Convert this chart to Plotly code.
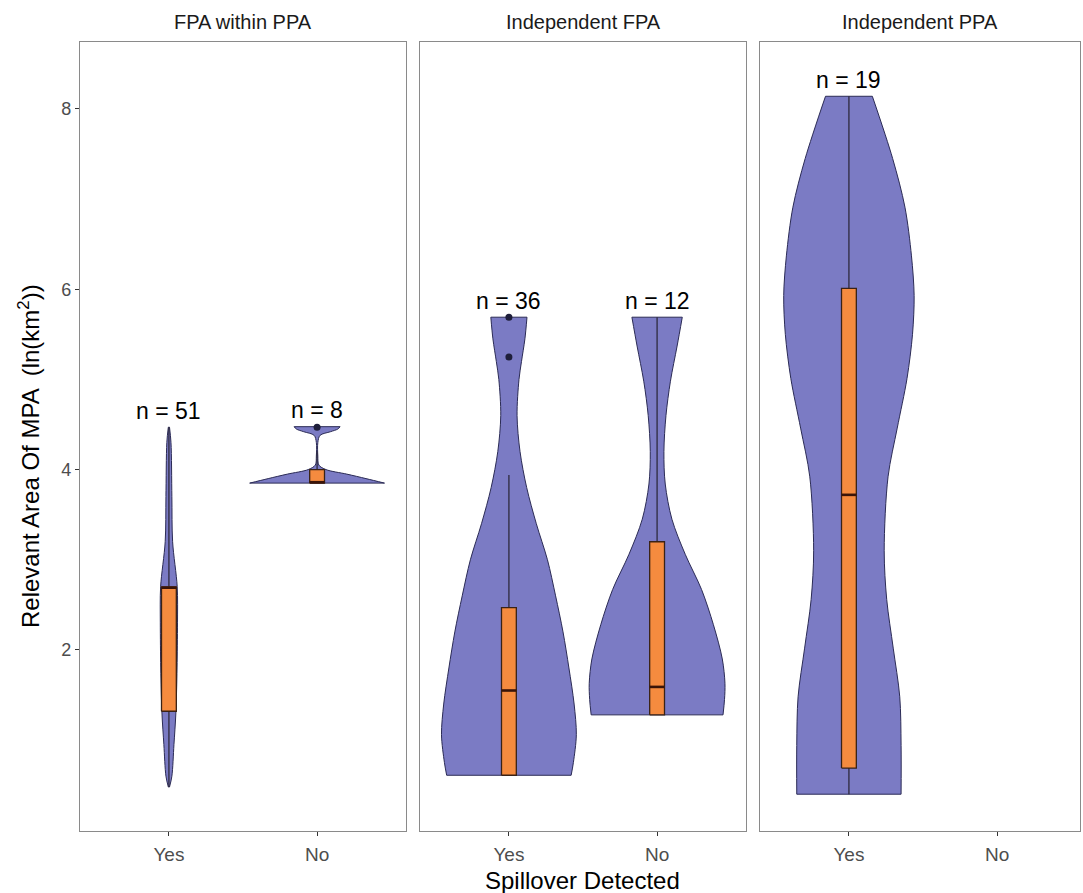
import plotly.graph_objects as go

# ---------------- data ----------------
facets = ["FPA within PPA", "Independent FPA", "Independent PPA"]
categories = ["Yes", "No"]

# violin outlines: y levels (ln km2) and half-widths (x units)
p1_yes_y = [0.48, 0.60, 0.95, 1.30, 1.80, 2.30, 2.70, 3.20, 3.70, 4.30, 4.47]
p1_yes_hw = [0.004, 0.020, 0.034, 0.047, 0.055, 0.058, 0.056, 0.025, 0.020, 0.014, 0.004]

p1_no_y = [3.85, 3.90, 3.95, 4.00, 4.05, 4.15, 4.30, 4.38, 4.42, 4.45, 4.476]
p1_no_hw = [0.455, 0.33, 0.20, 0.06, 0.012, 0.005, 0.005, 0.02, 0.09, 0.14, 0.155]

p2_yes_y = [0.61, 0.75, 1.06, 1.40, 1.80, 2.20, 2.60, 3.00, 3.40, 3.80, 4.20, 4.60, 5.00, 5.20, 5.45, 5.69]
p2_yes_hw = [0.42, 0.435, 0.455, 0.44, 0.405, 0.365, 0.315, 0.26, 0.185, 0.12, 0.075, 0.055, 0.068, 0.085, 0.108, 0.122]

p2_no_y = [1.28, 1.45, 1.63, 1.90, 2.28, 2.67, 3.06, 3.45, 3.84, 4.20, 4.60, 4.98, 5.37, 5.69]
p2_no_hw = [0.445, 0.455, 0.458, 0.44, 0.38, 0.30, 0.19, 0.10, 0.055, 0.046, 0.06, 0.09, 0.135, 0.17]

p3_yes_y = [0.40, 0.94, 1.48, 2.02, 2.56, 3.10, 3.92, 4.46, 5.01, 5.50, 5.93, 6.37, 6.91, 7.45, 8.14]
p3_yes_hw = [0.352, 0.352, 0.343, 0.299, 0.255, 0.238, 0.264, 0.326, 0.392, 0.429, 0.44, 0.422, 0.378, 0.295, 0.158]

# box statistics
box_facet = [0, 0, 1, 1, 2]
box_cat = ["Yes", "No", "Yes", "No", "Yes"]
box_lf = [0.48, 3.85, 0.61, 1.28, 0.40]
box_q1 = [1.32, 3.85, 0.61, 1.28, 0.69]
box_med = [2.69, 3.86, 1.55, 1.59, 3.72]
box_q3 = [2.70, 4.00, 2.47, 3.20, 6.01]
box_uf = [4.47, 4.20, 3.94, 5.69, 8.14]

# outliers
out_facet = [0, 1, 1]
out_cat = ["No", "Yes", "Yes"]
out_val = [4.47, 5.25, 5.69]

# sample sizes
n_facet = [0, 0, 1, 1, 2]
n_cat = ["Yes", "No", "Yes", "No", "Yes"]
n_val = [51, 8, 36, 12, 19]
n_top = [4.47, 4.476, 5.69, 5.69, 8.14]

violins = [
    (0, "Yes", p1_yes_y, p1_yes_hw),
    (0, "No", p1_no_y, p1_no_hw),
    (1, "Yes", p2_yes_y, p2_yes_hw),
    (1, "No", p2_no_y, p2_no_hw),
    (2, "Yes", p3_yes_y, p3_yes_hw),
]

# ---------------- style ----------------
VIOLIN_FILL = "#7B7BC4"
VIOLIN_LINE = "#2B2B55"
BOX_FILL = "#F58B3F"
BOX_LINE = "#3A2215"
WHISKER = "#2E2A3E"
FONT = "Liberation Sans, Arial, sans-serif"
BOX_HALF = 0.05

pos = {c: i + 1 for i, c in enumerate(categories)}
axn = ["", "2", "3"]

fig = go.Figure()


def ax(f):
    return dict(xaxis="x" + axn[f], yaxis="y" + axn[f])


for f, cat, ys, hws in violins:
    c = pos[cat]
    # left outline
    fig.add_trace(go.Scatter(
        x=[c - h for h in hws], y=ys, mode="lines",
        line=dict(color=VIOLIN_LINE, width=1, shape="spline", smoothing=0.9),
        hoverinfo="skip", showlegend=False, **ax(f)))
    # right outline, filled to the left outline
    fig.add_trace(go.Scatter(
        x=[c + h for h in hws], y=ys, mode="lines", fill="tonextx", fillcolor=VIOLIN_FILL,
        line=dict(color=VIOLIN_LINE, width=1, shape="spline", smoothing=0.9),
        hoverinfo="skip", showlegend=False, **ax(f)))
    # flat ends
    for j in (0, -1):
        fig.add_trace(go.Scatter(
            x=[c - hws[j], c + hws[j]], y=[ys[j], ys[j]], mode="lines",
            line=dict(color=VIOLIN_LINE, width=1), hoverinfo="skip", showlegend=False, **ax(f)))

for i in range(len(box_facet)):
    f = box_facet[i]
    c = pos[box_cat[i]]
    # whiskers
    fig.add_trace(go.Scatter(
        x=[c, c, None, c, c], y=[box_lf[i], box_q1[i], None, box_q3[i], box_uf[i]],
        mode="lines", line=dict(color=WHISKER, width=1.3), hoverinfo="skip",
        showlegend=False, **ax(f)))
    # box
    fig.add_trace(go.Scatter(
        x=[c - BOX_HALF, c + BOX_HALF, c + BOX_HALF, c - BOX_HALF, c - BOX_HALF],
        y=[box_q1[i], box_q1[i], box_q3[i], box_q3[i], box_q1[i]],
        mode="lines", fill="toself", fillcolor=BOX_FILL,
        line=dict(color=BOX_LINE, width=1.3), hoverinfo="skip", showlegend=False, **ax(f)))
    # median
    fig.add_trace(go.Scatter(
        x=[c - BOX_HALF, c + BOX_HALF], y=[box_med[i], box_med[i]], mode="lines",
        line=dict(color="#3A1408", width=2.6), hoverinfo="skip", showlegend=False, **ax(f)))

for i in range(len(out_facet)):
    f = out_facet[i]
    fig.add_trace(go.Scatter(
        x=[pos[out_cat[i]]], y=[out_val[i]], mode="markers",
        marker=dict(color="#1E1E3A", size=7), showlegend=False, **ax(f)))

W, H = 1083, 893
x_doms = [[80 / W, 406 / W], [420 / W, 746 / W], [760 / W, 1080 / W]]
x_ranges = [[0.4, 2.6], [0.4, 2.6], [0.4, 0.4 + 320 / 148.2]]
y_dom = [1 - 831 / H, 1 - 42 / H]
y_range = [-0.008, 8.742]

layout = dict(
    width=W, height=H, margin=dict(l=0, r=0, t=0, b=0),
    paper_bgcolor="white", plot_bgcolor="white",
    font=dict(family=FONT, color="#1a1a1a"),
    showlegend=False,
)
for k in range(3):
    layout["xaxis" + axn[k]] = dict(
        domain=x_doms[k], range=x_ranges[k], anchor="y" + axn[k],
        tickmode="array", tickvals=[pos[c] for c in categories], ticktext=categories,
        ticks="outside", ticklen=4, tickcolor="#333333", tickwidth=1,
        tickfont=dict(size=19, color="#4d4d4d", family=FONT), ticklabelstandoff=2,
        showline=True, mirror=True, linecolor="#8a8a8a", linewidth=1.3,
        showgrid=False, zeroline=False, fixedrange=True)
    layout["yaxis" + axn[k]] = dict(
        domain=y_dom, range=y_range, anchor="x" + axn[k],
        tickmode="array", tickvals=[2, 4, 6, 8],
        ticks="outside" if k == 0 else "", ticklen=4, tickcolor="#333333",
        showticklabels=(k == 0),
        tickfont=dict(size=18, color="#4d4d4d", family=FONT),
        showline=True, mirror=True, linecolor="#8a8a8a", linewidth=1.3,
        showgrid=False, zeroline=False, fixedrange=True)
fig.update_layout(**layout)

ann = []
for k in range(3):
    ann.append(dict(text=facets[k], x=(x_doms[k][0] + x_doms[k][1]) / 2, y=1 - 22 / H,
                    xref="paper", yref="paper", xanchor="center", yanchor="middle",
                    showarrow=False, font=dict(size=20, color="#1a1a1a", family=FONT)))
for i in range(len(n_facet)):
    f = n_facet[i]
    ann.append(dict(text=f"n = {n_val[i]}", x=pos[n_cat[i]], y=n_top[i] + 0.18,
                    xref="x" + axn[f], yref="y" + axn[f], xanchor="center", yanchor="middle",
                    showarrow=False, font=dict(size=23, color="black", family=FONT)))
ann.append(dict(text="Spillover Detected", x=582 / W, y=1 - 880 / H, xref="paper", yref="paper",
                xanchor="center", yanchor="middle",
                showarrow=False, font=dict(size=24, color="black", family=FONT)))
ann.append(dict(text="Relevant Area Of MPA  (ln(km<sup>2</sup>))", x=29 / W, y=1 - 456 / H,
                xref="paper", yref="paper", xanchor="center", yanchor="middle", textangle=-90,
                showarrow=False, font=dict(size=24, color="black", family=FONT)))
fig.update_layout(annotations=ann)

fig.write_html("out.html")
